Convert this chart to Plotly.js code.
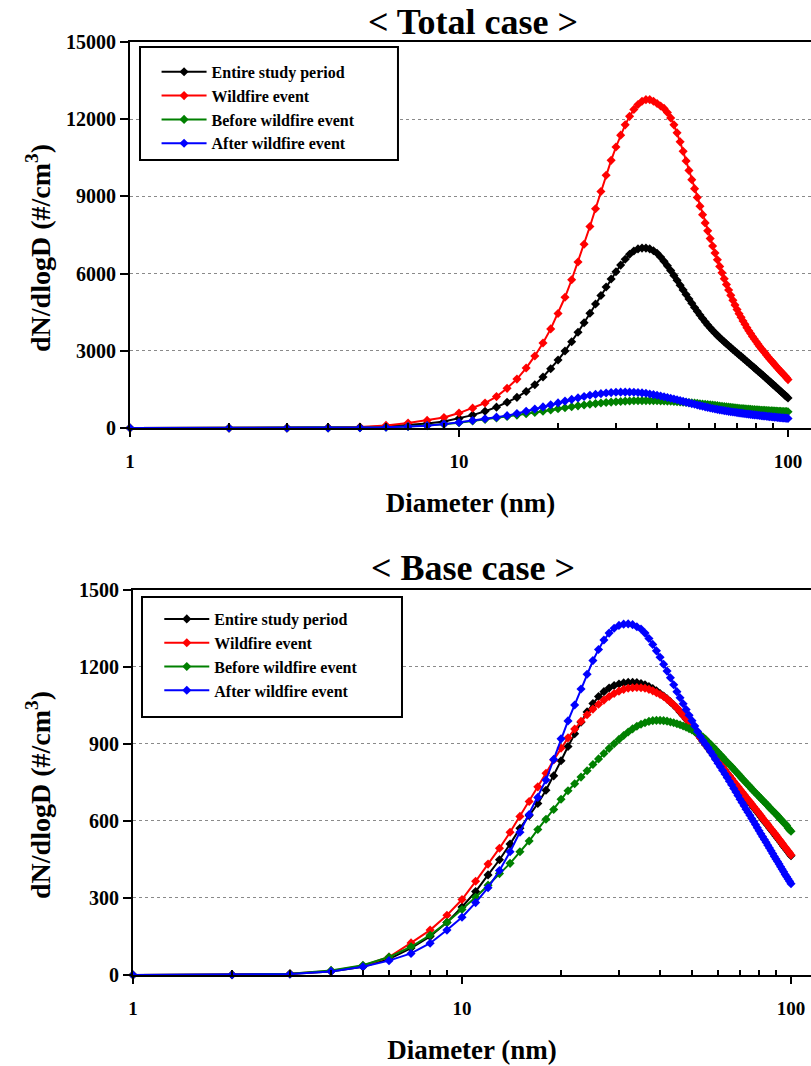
<!DOCTYPE html>
<html>
<head>
<meta charset="utf-8">
<script src="https://cdn.plot.ly/plotly-3.0.1.min.js"></script>
<style>html,body{margin:0;padding:0;background:#fff;}#chart{width:811px;height:1066px;}</style>
</head>
<body>
<div id="chart"></div>
<script>
// ---------- data ----------
const diameters = [1,2,3,4,5,6,7,8,9,10,11,12,13,14,15,16,17,18,19,20,21,22,23,24,25,26,27,28,29,30,31,32,33,34,35,36,37,38,39,40,41,42,43,44,45,46,47,48,49,50,51,52,53,54,55,56,57,58,59,60,61,62,63,64,65,66,67,68,69,70,71,72,73,74,75,76,77,78,79,80,81,82,83,84,85,86,87,88,89,90,91,92,93,94,95,96,97,98,99,100];

const seriesNames = ["Entire study period", "Wildfire event", "Before wildfire event", "After wildfire event"];
const seriesColors = ["#000000", "#ff0000", "#008000", "#0000ff"];

const xTickVals = [1, 10, 100];
const xTickText = ["1", "10", "100"];
const xMinorTickVals = [2,3,4,5,6,7,8,9,20,30,40,50,60,70,80,90];
const totalYTicks = [0, 3000, 6000, 9000, 12000, 15000];
const totalYTickText = ["0", "3000", "6000", "9000", "12000", "15000"];
const baseYTicks = [0, 300, 600, 900, 1200, 1500];
const baseYTickText = ["0", "300", "600", "900", "1200", "1500"];

// Total case
const totalEntire = [0,0,2,8,25,60,110,170,250,370,
  500,650,810,1000,1190,1420,1680,1980,2300,2640,
  2990,3350,3720,4090,4460,4820,5150,5480,5790,6070,
  6330,6560,6750,6880,6960,6990,6990,6960,6890,6790,
  6640,6475,6300,6117,5929,5739,5551,5366,5186,5012,
  4845,4685,4533,4389,4253,4125,4005,3893,3788,3690,
  3598,3511,3428,3348,3271,3196,3123,3052,2983,2916,
  2848,2781,2715,2650,2586,2523,2460,2398,2337,2276,
  2216,2156,2097,2038,1980,1922,1865,1808,1752,1696,
  1641,1586,1532,1478,1425,1372,1320,1268,1217,1166];

const totalWildfire = [0,0,3,12,40,100,190,295,410,580,
  770,970,1220,1540,1900,2330,2800,3300,3850,4450,
  5080,5760,6450,7140,7830,8520,9190,9820,10400,10920,
  11380,11780,12110,12380,12570,12700,12760,12760,12700,12610,
  12510,12420,12260,12050,11780,11470,11120,10750,10380,10010,
  9650,9300,8960,8620,8290,7970,7660,7360,7075,6800,
  6535,6280,6035,5800,5575,5360,5155,4960,4775,4600,
  4440,4300,4160,4030,3900,3780,3670,3560,3460,3360,
  3260,3170,3080,3000,2920,2840,2760,2680,2610,2540,
  2470,2400,2330,2260,2200,2140,2080,2020,1950,1880];

const totalBefore = [0,0,1,4,12,28,55,90,145,205,
  270,330,390,445,500,555,605,655,700,745,
  785,825,860,893,922,948,970,990,1006,1020,
  1032,1042,1050,1056,1060,1063,1064,1064,1062,1059,
  1055,1050,1044,1037,1030,1022,1013,1004,995,985,
  975,965,955,944,933,922,911,900,889,878,
  867,856,845,835,825,815,805,795,786,777,
  768,760,752,745,738,731,725,719,713,707,
  702,697,692,688,684,680,676,672,668,664,
  660,656,652,649,646,643,640,637,634,631];

const totalAfter = [0,0,1,4,12,28,55,90,150,215,
  290,360,420,480,560,650,740,820,900,975,
  1045,1110,1170,1225,1270,1305,1335,1358,1375,1386,
  1392,1394,1392,1386,1376,1363,1347,1320,1296,1270,
  1243,1215,1186,1156,1126,1095,1064,1034,1004,975,
  947,920,894,869,845,822,800,779,759,740,
  722,705,689,674,660,646,633,621,609,598,
  587,576,566,556,546,537,528,519,510,502,
  494,486,478,470,463,456,449,442,435,428,
  422,416,410,404,398,392,387,382,377,372];

// Base case
const baseEntire = [0,1,4,14,32,62,105,150,205,265,
  325,390,449,510,572,621,668,720,776,835,
  890,940,985,1025,1058,1085,1104,1118,1128,1134,
  1138,1140,1140,1139,1136,1131,1124,1116,1107,1097,
  1087,1076,1064,1052,1039,1025,1011,997,982,967,
  952,938,924,910,896,883,870,857,844,832,
  820,808,796,784,773,762,751,740,730,720,
  710,700,690,681,672,662,653,644,635,626,
  617,608,599,591,583,574,566,558,550,542,
  534,526,518,510,502,495,487,480,472,465];

const baseWildfire = [0,1,5,16,36,70,125,175,233,294,
  365,432,494,556,618,676,733,786,838,884,
  924,958,988,1014,1036,1055,1071,1085,1097,1106,
  1113,1117,1119,1120,1119,1117,1113,1107,1100,1093,
  1085,1075,1064,1053,1040,1027,1012,998,983,968,
  953,938,925,912,899,886,873,860,847,835,
  823,811,799,787,776,765,754,743,733,723,
  713,703,693,684,675,665,656,647,638,629,
  620,611,602,594,586,577,569,561,553,545,
  537,529,521,513,505,498,490,483,475,468];

const baseBefore = [0,1,5,18,38,70,110,155,205,255,
  303,350,395,435,480,522,567,607,645,685,
  718,745,771,796,820,842,863,883,901,918,
  933,947,959,969,977,983,988,991,992,992,
  991,989,986,983,979,975,970,965,960,955,
  948,942,935,927,918,908,898,888,878,868,
  858,848,838,829,820,811,802,793,784,775,
  766,758,749,741,733,725,717,710,702,695,
  688,681,674,667,660,653,646,640,633,627,
  620,614,607,600,594,588,582,573,566,560];

const baseAfter = [0,1,4,14,32,56,84,124,175,225,
  282,340,407,480,556,625,692,760,840,920,
  990,1052,1114,1172,1225,1268,1305,1332,1351,1362,
  1367,1368,1365,1357,1348,1332,1311,1288,1263,1238,
  1211,1184,1158,1131,1104,1080,1057,1034,1012,991,
  970,949,929,913,899,885,870,855,840,825,
  811,797,783,769,755,741,727,713,699,685,
  672,659,646,634,622,610,598,586,574,562,
  550,539,528,517,506,495,484,473,462,452,
  442,432,422,412,402,392,383,374,365,356];

// ---------- traces ----------
const FONT = "Liberation Serif, Times New Roman, serif";
function makeTrace(values, idx, xa, ya, legendId) {
  return {
    x: diameters, y: values, type: "scatter", mode: "lines+markers",
    name: seriesNames[idx],
    xaxis: xa, yaxis: ya,
    legend: legendId, legendgroup: legendId + "_" + idx,
    line: {color: seriesColors[idx], width: 2},
    marker: {symbol: "diamond", size: 7, color: seriesColors[idx]},
    cliponaxis: false
  };
}
const totalSeries = [totalEntire, totalWildfire, totalBefore, totalAfter];
const baseSeries = [baseEntire, baseWildfire, baseBefore, baseAfter];
const data = [];
totalSeries.forEach((s, i) => data.push(makeTrace(s, i, "x", "y", "legend")));
baseSeries.forEach((s, i) => data.push(makeTrace(s, i, "x2", "y2", "legend2")));

// ---------- layout ----------
function xAxis(range, domain, anchor) {
  return {
    type: "log", range: range, domain: domain, anchor: anchor,
    tickmode: "array", tickvals: xTickVals, ticktext: xTickText,
    ticks: "outside", ticklen: 7, tickwidth: 2, tickcolor: "#000",
    showline: true, linewidth: 2, linecolor: "#000", mirror: true,
    showgrid: false, zeroline: false,
    tickfont: {family: FONT, size: 19, color: "#000", weight: "bold"},
    ticklabelstandoff: 8,
    minor: {tickmode: "array", tickvals: xMinorTickVals, ticks: "inside", ticklen: 5, tickwidth: 1.5, tickcolor: "#000", showgrid: false},
    title: {text: "Diameter (nm)", font: {family: FONT, size: 27, color: "#000", weight: "bold"}, standoff: 22}
  };
}
function yAxis(range, domain, anchor, tv, tt) {
  return {
    range: range, domain: domain, anchor: anchor,
    tickmode: "array", tickvals: tv, ticktext: tt,
    ticks: "outside", ticklen: 8, tickwidth: 2, tickcolor: "#000",
    showline: true, linewidth: 2, linecolor: "#000",
    showgrid: true, gridcolor: "#8a8a8a", griddash: "dot", gridwidth: 1,
    zeroline: false,
    tickfont: {family: FONT, size: 20, color: "#000", weight: "bold"}
  };
}
function legendCfg(x, y) {
  return {
    x: x, y: y, xref: "paper", yref: "paper", xanchor: "left", yanchor: "top",
    bgcolor: "rgba(0,0,0,0)", borderwidth: 0, traceorder: "grouped", tracegroupgap: 0,
    itemwidth: 45,
    font: {family: FONT, size: 16, color: "#000", weight: "bold"}
  };
}
function yTitle(y) {
  return {
    text: "dN/dlogD (#/cm<sup>3</sup>)", xref: "paper", yref: "paper",
    x: (38 - 130) / 681, y: y, xanchor: "center", yanchor: "middle",
    textangle: -90, showarrow: false,
    font: {family: FONT, size: 28, color: "#000", weight: "bold"}
  };
}

const layout = {
  width: 811, height: 1066,
  margin: {l: 130, r: 0, t: 42, b: 91},
  paper_bgcolor: "#fff", plot_bgcolor: "#fff",
  font: {family: FONT, color: "#000", weight: "bold"},
  title: {text: "&lt; Total case &gt;", font: {family: FONT, size: 36, color: "#000", weight: "bold"},
          x: 473/811, xref: "container", xanchor: "center", y: 1 - 21/1066, yref: "container", yanchor: "middle"},
  xaxis: xAxis([0, 2.0699], [0, 1], "y"),
  yaxis: yAxis([0, 15000], [0.5863, 1], "x", totalYTicks, totalYTickText),
  xaxis2: xAxis([0, 2.0608], [0.0044, 1], "y2"),
  yaxis2: yAxis([0, 1500], [0, 0.41265], "x2", baseYTicks, baseYTickText),
  legend: legendCfg(0.039, 0.9862),
  legend2: legendCfg(0.043, 0.3998),
  shapes: [
    {type: "rect", xref: "paper", yref: "paper", x0: 0.01468, x1: 0.3935, y0: 0.8735, y1: 0.99464,
     line: {color: "#000", width: 2}, fillcolor: "#fff", layer: "above"},
    {type: "rect", xref: "paper", yref: "paper", x0: 0.01762, x1: 0.3994, y0: 0.2765, y1: 0.4051,
     line: {color: "#000", width: 2}, fillcolor: "#fff", layer: "above"}
  ],
  annotations: [
    {text: "&lt; Base case &gt;", xref: "paper", yref: "paper", x: 0.5037, y: 0.4362,
     xanchor: "center", yanchor: "middle", showarrow: false,
     font: {family: FONT, size: 36, color: "#000", weight: "bold"}},
    yTitle((975 - 248) / 933),
    yTitle((975 - 795) / 933)
  ]
};

Plotly.newPlot("chart", data, layout, {displayModeBar: false, staticPlot: true});
</script>
</body>
</html>
